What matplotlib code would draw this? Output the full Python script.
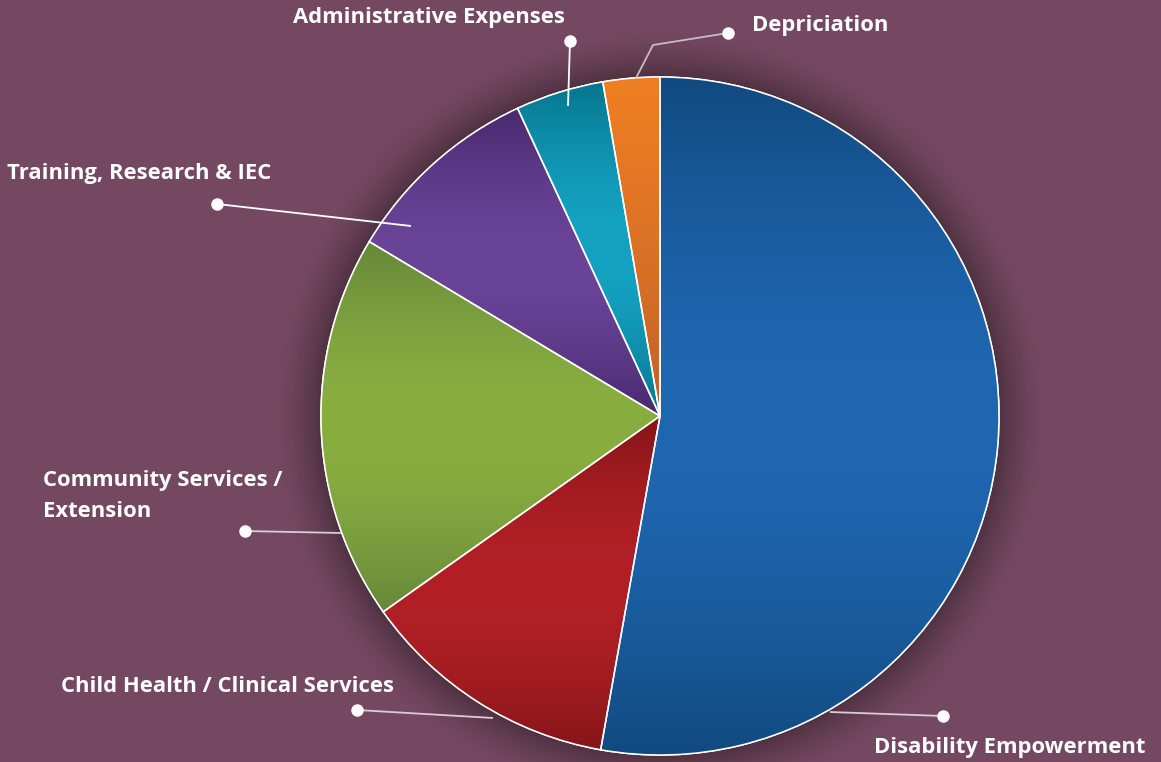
import numpy as np
import matplotlib
matplotlib.use("Agg")
import matplotlib.pyplot as plt
from matplotlib.patches import Wedge

# share of expenditure (%), clockwise from 12 o'clock
categories = ["Disability Empowerment", "Child Health / Clinical Services",
              "Community Services /\nExtension", "Training, Research & IEC",
              "Administrative Expenses", "Depriciation"]
shares = [52.8, 12.4, 18.4, 9.5, 4.2, 2.7]

# (edge colour, centre colour) for the vertical gradient on each slice
dark_colors = ["#114a80", "#861518", "#66883a", "#48296e", "#06768e", "#bf5f2a"]
light_colors = ["#1f67b1", "#b22026", "#89ae40", "#6a4497", "#15a2c2", "#ef7f22"]

BG = "#744860"
W, H = 1161, 762
cx, cy, R = 660, 762 - 416, 339

fig = plt.figure(figsize=(W / 100, H / 100), dpi=100, facecolor=BG)
ax = fig.add_axes([0, 0, 1, 1])
ax.set_facecolor(BG)

# soft dark halo behind the pie
yy, xx = np.mgrid[0:H, 0:W]
d = np.hypot(xx + 0.5 - cx, (H - yy - 0.5) - cy)
halo = np.clip(1 - (d - R) / 48, 0, 1) ** 1.6 * 0.32
halo[d < R - 2] = 0
rgba = np.zeros((H, W, 4))
rgba[..., 3] = halo
ax.imshow(rgba, extent=(0, W, 0, H), origin="upper", zorder=1)

wedges, _ = ax.pie(shares, startangle=90, counterclock=False,
                   center=(cx, cy), radius=R, colors=light_colors,
                   wedgeprops=dict(edgecolor="white", linewidth=1.1))


def hex2rgb(h):
    return np.array([int(h[i:i + 2], 16) / 255 for i in (1, 3, 5)])


for i, w in enumerate(wedges):
    w.set_zorder(2)
    ext = w.get_path().get_extents()
    t = np.linspace(0, 1, 200)[:, None]  # 0 = bottom, 1 = top
    if i == len(wedges) - 1:
        k = t ** 0.8  # orange: bright on top, darker below
    else:
        k = np.sin(np.pi * t)
    c0, c1 = hex2rgb(dark_colors[i]), hex2rgb(light_colors[i])
    img = (c0 + (c1 - c0) * k)[:, None, :]
    im = ax.imshow(img, extent=(ext.x0, ext.x1, ext.y0, ext.y1), origin="lower",
                   aspect="auto", zorder=2.5, interpolation="bilinear")
    im.set_clip_path(w)
    ax.add_patch(Wedge((cx, cy), R, w.theta1, w.theta2, facecolor="none",
                       edgecolor="white", linewidth=1.1, zorder=3))

ax.set_xlim(0, W)
ax.set_ylim(0, H)
ax.set_aspect("equal")
ax.axis("off")

# label layout in pixel coords (from top-left): text pos, leader path
labels_layout = [
    dict(text=(874, 747), path=[(943, 716), (830, 712)], lc="#d8ccd6"),
    dict(text=(61, 686), path=[(357, 710), (493, 718)], lc="#d8ccd6"),
    dict(text=(43, 496), path=[(245, 531), (341, 533)], lc="#d8ccd6"),
    dict(text=(7, 173), path=[(217, 204), (411, 226)], lc="white"),
    dict(text=(293, 18), path=[(570, 41), (568, 106)], lc="white"),
    dict(text=(752, 25), path=[(728, 33), (653, 45), (636, 78)], lc="#c8bcc6"),
]

for name, lay in zip(categories, labels_layout):
    px = [p[0] for p in lay["path"]]
    py = [H - p[1] for p in lay["path"]]
    ax.plot(px, py, color=lay["lc"], lw=1.3, zorder=4, solid_capstyle="butt")
    ax.plot(px[0], py[0], "o", color="white", ms=9, mec="none", zorder=5)
    tx, ty = lay["text"]
    ax.text(tx, H - ty, name, color="white", fontsize=15.8, fontweight="bold",
            family=["Open Sans", "DejaVu Sans"], ha="left", va="center",
            linespacing=1.62, zorder=6)

fig.savefig("out.png", dpi=100, facecolor=BG)
